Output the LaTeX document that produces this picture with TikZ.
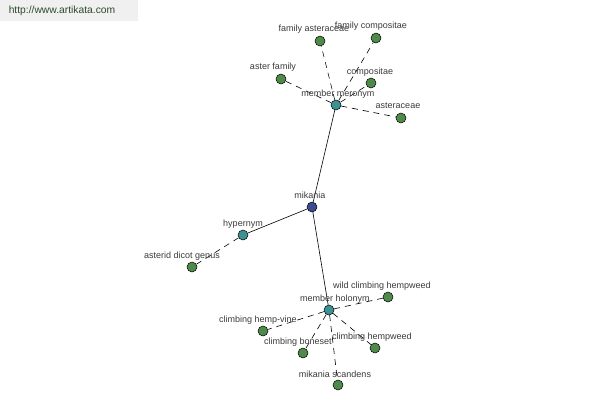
\documentclass[tikz,border=0pt]{standalone}
\usepackage{fontspec}
\setmainfont{Liberation Sans}
\definecolor{leaf}{HTML}{4E8B4A}
\definecolor{hub}{HTML}{3C9292}
\definecolor{root}{HTML}{3B4A92}
\definecolor{txt}{HTML}{3A3A3A}
\definecolor{urltxt}{HTML}{2E4A2E}
\begin{document}
\begin{tikzpicture}[x=1pt,y=-1pt,
  dot/.style={circle,draw=black,line width=0.5pt,minimum size=10pt,inner sep=0pt},
  leafdot/.style={dot,fill=leaf},
  hubdot/.style={dot,fill=hub},
  rootdot/.style={dot,fill=root},
  lbl/.style={font=\fontsize{9}{10}\selectfont,text=txt,inner sep=0pt},
  solidedge/.style={draw=black,line width=0.6pt},
  dashedge/.style={draw=black,line width=0.6pt,dash pattern=on 6pt off 5pt}]
\useasboundingbox (0,0) rectangle (600,400);
\fill[gray!12] (0,0) rectangle (138,21);
\node[font=\fontsize{10.3}{12}\selectfont,text=urltxt,inner sep=0pt] (url) at (62,11) {http://www.artikata.com};
% nodes
\node[rootdot] (mik) at (312,207) {};
\node[hubdot] (mm) at (336,105) {};
\node[hubdot] (hyp) at (243,235) {};
\node[hubdot] (mh) at (329,310) {};
\node[leafdot] (fa) at (320,41) {};
\node[leafdot] (fc) at (376,38) {};
\node[leafdot] (af) at (281,79) {};
\node[leafdot] (co) at (371,83) {};
\node[leafdot] (as) at (401,118) {};
\node[leafdot] (adg) at (192,267) {};
\node[leafdot] (wch) at (388,297) {};
\node[leafdot] (chv) at (263,331) {};
\node[leafdot] (cb) at (303,353) {};
\node[leafdot] (ch) at (375,348) {};
\node[leafdot] (ms) at (338,385) {};
% edges
\draw[solidedge] (mik) -- (mm);
\draw[solidedge] (mik) -- (hyp);
\draw[solidedge] (mik) -- (mh);
\foreach \t in {fa,fc,af,co,as} \draw[dashedge] (mm) -- (\t);
\draw[dashedge] (hyp) -- (adg);
\foreach \t in {wch,chv,cb,ch,ms} \draw[dashedge] (mh) -- (\t);
% labels
\node[lbl] (lmik) at (310,195) {mikania};
\node[lbl] (lmm) at (338,94) {member meronym};
\node[lbl] (lfa) at (314,29) {family asteraceae};
\node[lbl] (lfc) at (371,26) {family compositae};
\node[lbl] (laf) at (273,67) {aster family};
\node[lbl] (lco) at (370,72) {compositae};
\node[lbl] (las) at (398,106) {asteraceae};
\node[lbl] (lhyp) at (243,224) {hypernym};
\node[lbl] (ladg) at (182,256) {asterid dicot genus};
\node[lbl] (lmh) at (335,299) {member holonym};
\node[lbl] (lwch) at (382,286) {wild climbing hempweed};
\node[lbl] (lchv) at (258,320) {climbing hemp-vine};
\node[lbl] (lcb) at (298,342) {climbing boneset};
\node[lbl] (lch) at (372,337) {climbing hempweed};
\node[lbl] (lms) at (335,374) {mikania scandens};
\end{tikzpicture}
\end{document}
